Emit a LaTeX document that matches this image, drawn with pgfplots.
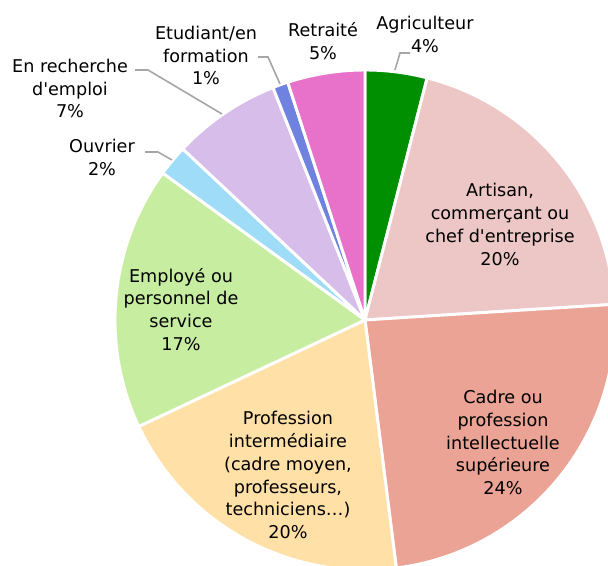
\documentclass[border=0pt]{standalone}
\usepackage{pgfplots}
\pgfplotsset{compat=1.18}
\usepackage{fontspec}
\setmainfont{DejaVu Sans}
\definecolor{cAgri}{RGB}{0,143,0}
\definecolor{cArt}{RGB}{236,199,197}
\definecolor{cCad}{RGB}{234,163,148}
\definecolor{cProf}{RGB}{255,224,166}
\definecolor{cEmp}{RGB}{198,237,160}
\definecolor{cOuv}{RGB}{158,220,247}
\definecolor{cRech}{RGB}{215,189,234}
\definecolor{cEtu}{RGB}{112,130,224}
\definecolor{cRet}{RGB}{232,114,201}
\definecolor{lead}{RGB}{166,166,166}
\begin{document}
\begin{tikzpicture}
\begin{axis}[
  scale only axis, width=456pt, height=424.5pt,
  xmin=0, xmax=608, ymin=0, ymax=566, y dir=reverse,
  axis lines=none, ticks=none, clip=true,
  nodes={font=\fontsize{13.2}{17.2}\selectfont, align=center, text=black}
]
\def\cum{0}
\foreach \v/\col in {4/cAgri,20/cArt,24/cCad,20/cProf,17/cEmp,2/cOuv,7/cRech,1/cEtu,5/cRet}{
  \pgfmathsetmacro\a{90-\cum*3.6}
  \pgfmathsetmacro\b{90-(\cum+\v)*3.6}
  \edef\temp{\noexpand\fill[\col, draw=white, line width=2.2pt, line join=round] (axis cs:365,320) -- ++(\a:187.5pt) arc[start angle=\a, end angle=\b, radius=187.5pt] -- cycle;}
  \temp
  \pgfmathsetmacro\n{\cum+\v}\xdef\cum{\n}
}
% leader lines
\draw[lead, line width=1.2pt] (axis cs:395,70) -- (axis cs:400,53) -- (axis cs:410,53);
\draw[lead, line width=1.2pt] (axis cs:258,57) -- (axis cs:268,57) -- (axis cs:280,84);
\draw[lead, line width=1.2pt] (axis cs:135,70) -- (axis cs:148,70) -- (axis cs:222,114);
\draw[lead, line width=1.2pt] (axis cs:145,152) -- (axis cs:158,152) -- (axis cs:172,160);
% labels
\node at (axis cs:425,34.5) {Agriculteur\\4\%};
\node at (axis cs:323,41) {Retraité\\5\%};
\node at (axis cs:206,55.5) {Etudiant/en\\formation\\1\%};
\node at (axis cs:70,88.5) {En recherche\\d\textquotesingle emploi\\7\%};
\node at (axis cs:102,157.5) {Ouvrier\\2\%};
\node at (axis cs:500,224.5) {Artisan,\\commerçant ou\\chef d\textquotesingle entreprise\\20\%};
\node at (axis cs:503,442.5) {Cadre ou\\profession\\intellectuelle\\supérieure\\24\%};
\node at (axis cs:288,475) {Profession\\intermédiaire\\(cadre moyen,\\professeurs,\\techniciens…)\\20\%};
\node at (axis cs:181,309.5) {Employé ou\\personnel de\\service\\17\%};
\end{axis}
\pgfresetboundingbox
\path (current axis.south west) rectangle (current axis.north east);
\end{tikzpicture}
\end{document}
